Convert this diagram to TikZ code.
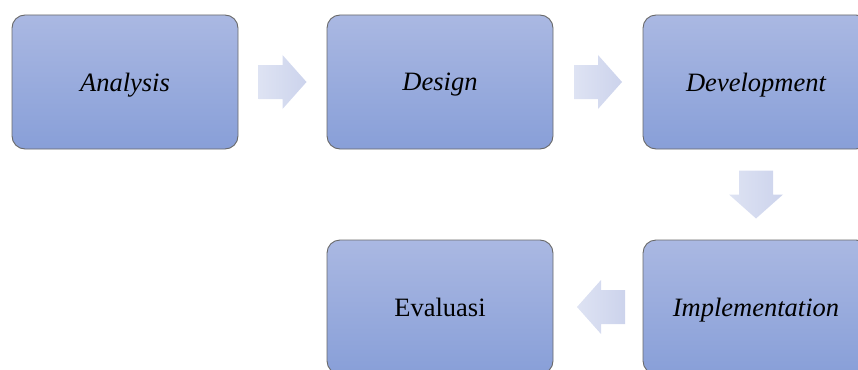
\documentclass[tikz,border=0pt]{standalone}
\usepackage{fontspec}
\setmainfont{Liberation Serif}
\usetikzlibrary{calc,positioning}

\definecolor{boxtop}{RGB}{170,184,226}
\definecolor{boxbot}{RGB}{136,159,216}
\definecolor{boxline}{RGB}{105,105,105}
\definecolor{arrtop}{RGB}{222,227,243}
\definecolor{arrbot}{RGB}{204,211,236}

\tikzset{
	stage/.style={draw=boxline,line width=0.9pt,rounded corners=13pt,top color=boxtop,bottom color=boxbot,minimum width=226pt,minimum height=134pt,inner sep=0pt,text depth=0pt,font=\fontsize{26.5}{30}\selectfont\itshape},
	flow/.pic={\path[left color=arrtop,right color=arrbot] (-24,-17) -- (0,-17) -- (0,-27) -- (24,0) -- (0,27) -- (0,17) -- (-24,17) -- cycle;}
}

\begin{document}
\begin{tikzpicture}[x=1pt,y=-1pt]
		\useasboundingbox (0,0) rectangle (858,369);
		\clip (0,0) rectangle (858,369);
		% stages
		\node[stage] (ana) at (125,82) {Analysis};
		\node[stage] (des) at (440,82) {Design};
		\node[stage] (dev) at (756,82) {Development};
		\node[stage] (imp) at (756,307) {Implementation};
		\node[stage,font=\fontsize{26.5}{30}\selectfont] (eva) at (440,307) {Evaluasi};
		% arrows between stages
		\pic at ($(ana.east)!0.5!(des.west)$) {flow};
		\pic at ($(des.east)!0.5!(dev.west)$) {flow};
		\pic[rotate=-90] at ($(dev.south)!0.5!(imp.north)$) {flow};
		\pic[rotate=180] at ($(imp.west)!0.5!(eva.east)+(3,0)$) {flow};
	\end{tikzpicture}
\end{document}
